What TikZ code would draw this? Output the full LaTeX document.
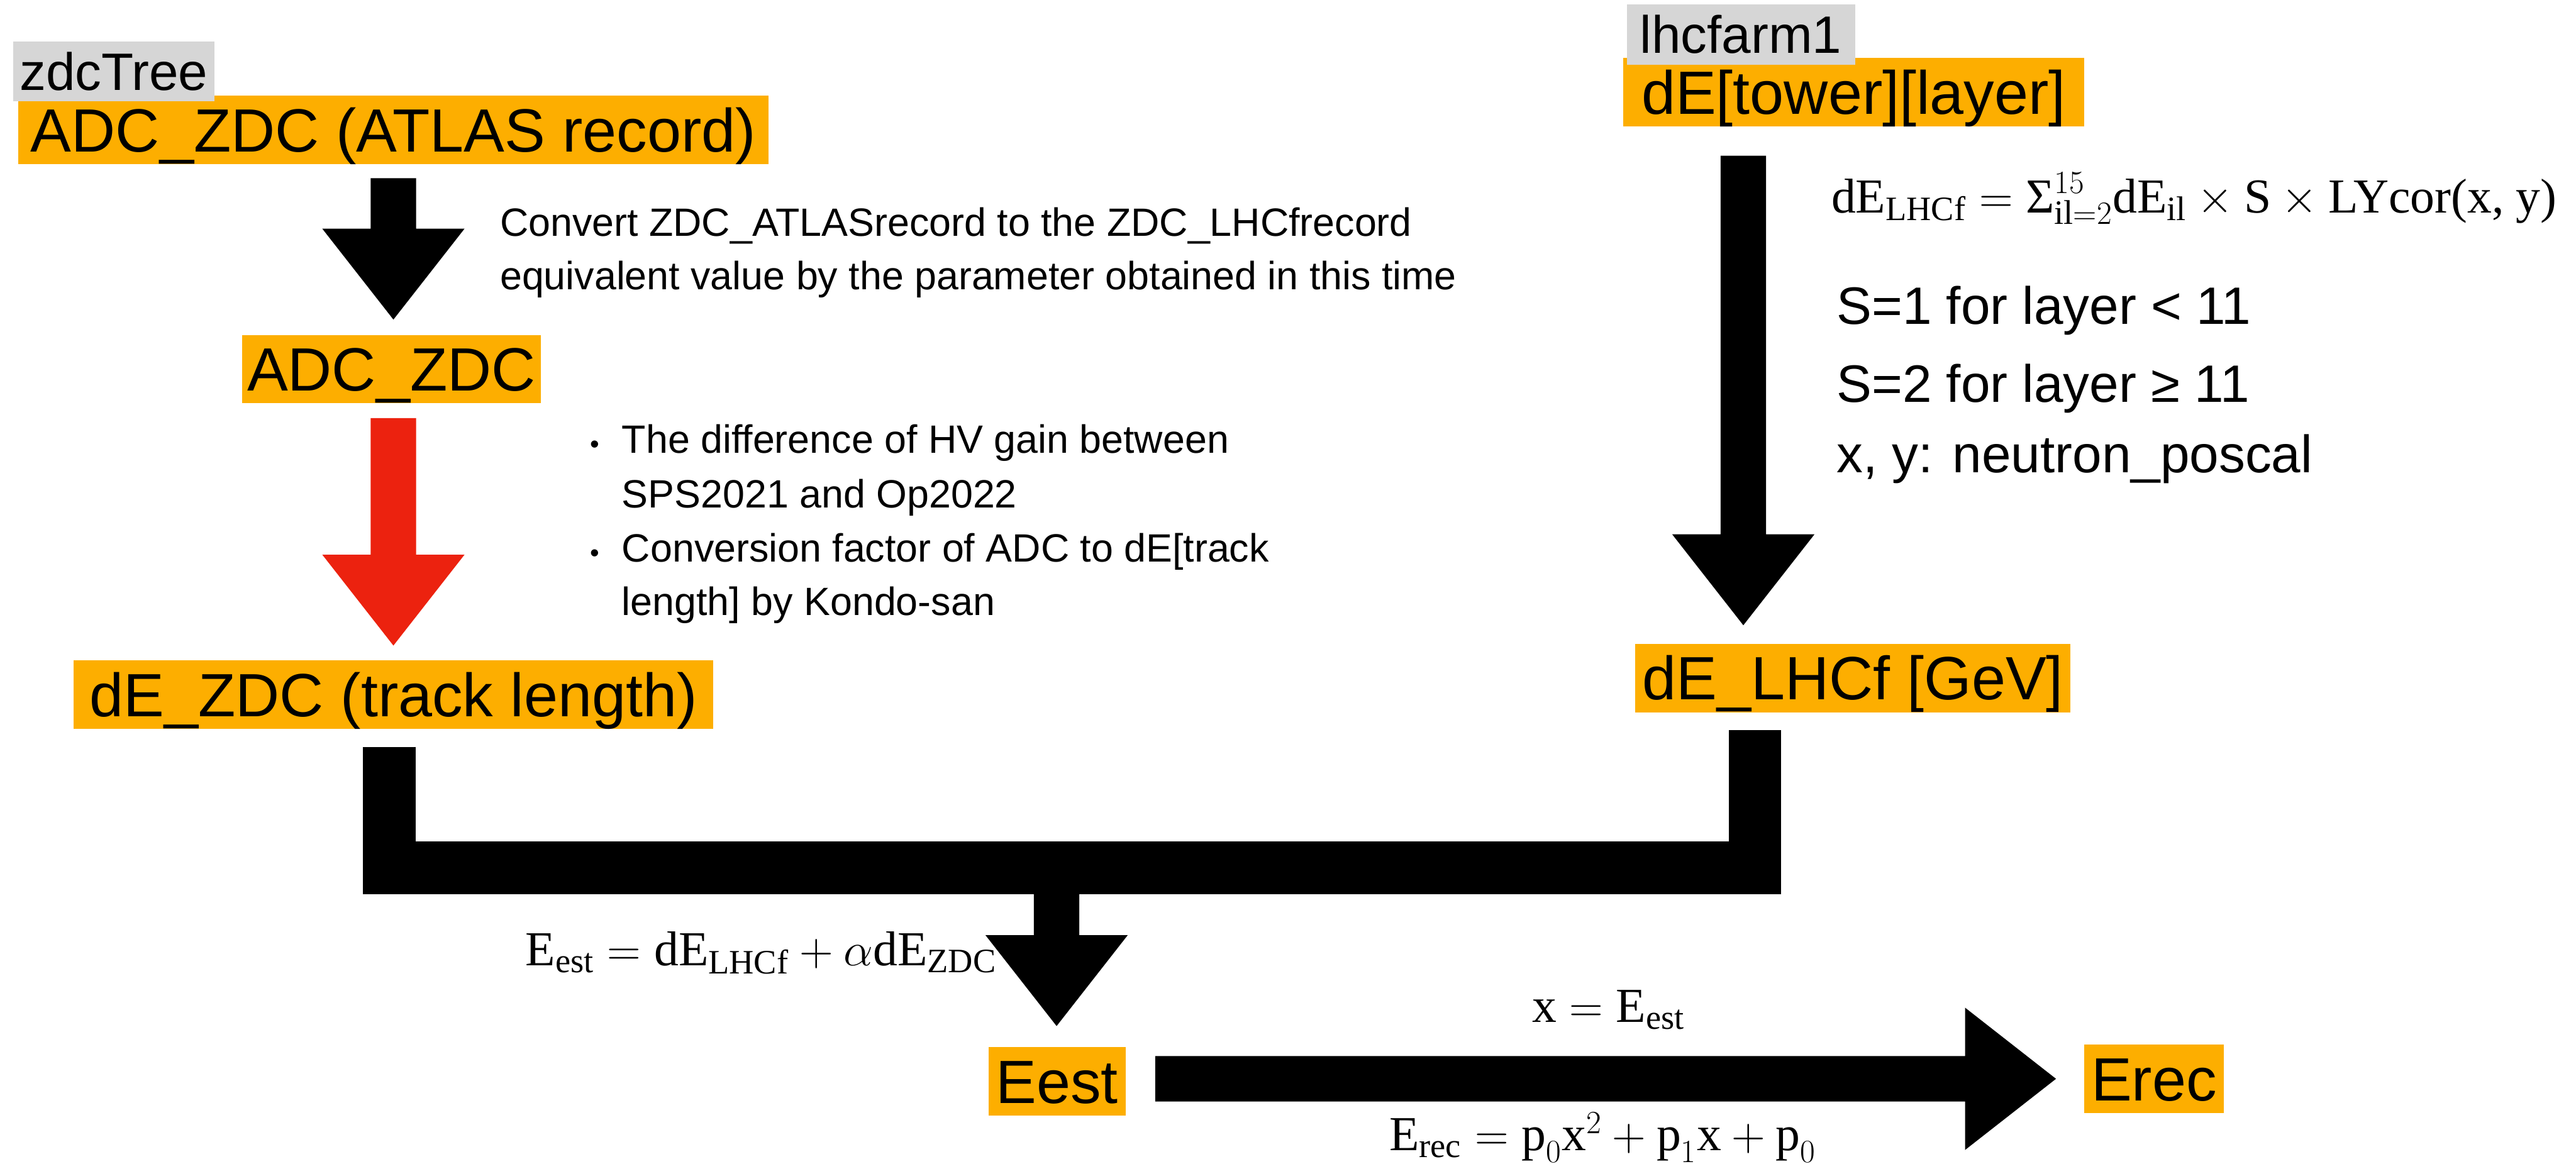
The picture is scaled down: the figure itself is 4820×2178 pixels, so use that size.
\documentclass[tikz,border=0pt]{standalone}
\usepackage{amsmath}
\usepackage{graphicx}
\usepackage{fontspec}
\setmainfont{Liberation Sans}
\newfontfamily\serifeq{Liberation Serif}
\usetikzlibrary{calc}
\definecolor{boxorange}{HTML}{FDAE00}
\definecolor{tagray}{HTML}{D6D6D6}
\definecolor{stepred}{HTML}{EC220F}
% upright serif text inside formulas
\newcommand\tm[1]{\text{\serifeq #1}}
% block arrow geometry: half shaft width, half head width, head length
\newcommand\arrshaft{0.425cm}
\newcommand\arrhead{1.33cm}
\newcommand\arrlen{1.70cm}
% downward block arrow from #2 (top centre) to #3 (tip)
\newcommand\vblock[3]{%
  \fill[#1] let \p1=(#2), \p2=(#3) in
    (\x1-\arrshaft,\y1) -- (\x1+\arrshaft,\y1) -- (\x1+\arrshaft,\y2+\arrlen)
    -- (\x1+\arrhead,\y2+\arrlen) -- (\x1,\y2) -- (\x1-\arrhead,\y2+\arrlen)
    -- (\x1-\arrshaft,\y2+\arrlen) -- cycle;}
% rightward block arrow from #2 (tail centre) to #3 (tip)
\newcommand\hblock[3]{%
  \fill[#1] let \p1=(#2), \p2=(#3) in
    (\x1,\y1+\arrshaft) -- (\x2-\arrlen,\y1+\arrshaft) -- (\x2-\arrlen,\y1+\arrhead)
    -- (\x2,\y1) -- (\x2-\arrlen,\y1-\arrhead) -- (\x2-\arrlen,\y1-\arrshaft)
    -- (\x1,\y1-\arrshaft) -- cycle;}
\begin{document}
\begin{tikzpicture}[x=0.01cm,y=-0.01cm,
  databox/.style={fill=boxorange, inner sep=0pt, anchor=north west,
    minimum height=1.28cm, font=\fontsize{32.5}{39}\selectfont,
    text height=23.3pt, text depth=0pt},
  sourcetag/.style={fill=tagray, inner sep=0pt, anchor=north west,
    minimum height=1.12cm, font=\fontsize{28}{34}\selectfont,
    text height=20pt, text depth=0pt},
  note/.style={inner sep=0pt, anchor=base west, font=\fontsize{21}{25}\selectfont},
  dot/.style={inner sep=0pt, anchor=base, font=\fontsize{14}{17}\selectfont},
  sidenote/.style={inner sep=0pt, anchor=base west, font=\fontsize{28}{34}\selectfont},
  formula/.style={inner sep=0pt, anchor=base west, font=\fontsize{26}{31}\selectfont\serifeq}]

\fill[white] (0,0) rectangle (4820,2178);
\useasboundingbox (0,0) rectangle (4820,2178);

% ---- data boxes ----
\node[databox, minimum width=14.04cm] (adcatlas) at (33,178) {ADC\_ZDC (ATLAS record)};
\node[databox, minimum width=5.59cm] (adc) at (452,626) {ADC\_ZDC};
\node[databox, minimum width=11.96cm] (dezdc) at (137,1235) {dE\_ZDC (track length)};
\node[databox, minimum width=8.63cm] (detower) at (3036,108) {dE[tower][layer]};
\node[databox, minimum width=8.14cm] (delhcf) at (3059,1204) {dE\_LHCf [GeV]};
\node[databox, minimum width=2.56cm] (eest) at (1849,1959) {Eest};
\node[databox, minimum width=2.61cm] (erec) at (3899,1954) {Erec};

% ---- source tags ----
\node[sourcetag, minimum width=3.76cm] (zdctree) at (24,77) {zdcTree};
\node[sourcetag, minimum width=4.27cm] (lhcfarm) at (3043,8) {lhcfarm1};

% ---- left chain ----
\coordinate (a1top) at ($(adcatlas.south)+(0,26)$);
\coordinate (a1tip) at ($(adc.north)+(0,-28)$);
\vblock{black}{a1top}{a1tip}
\coordinate (a2top) at ($(adcatlas.south |- adc.south)+(0,27)$);
\coordinate (a2tip) at ($(dezdc.north)+(0,-27)$);
\vblock{stepred}{a2top}{a2tip}

% ---- right chain ----
\coordinate (a3top) at ($(detower.south)+(-206.5,54)$);
\coordinate (a3tip) at ($(delhcf.north)+(0,-34)$);
\vblock{black}{a3top}{a3tip}

% ---- merging bracket ----
\coordinate (zdcfoot) at ($(dezdc.south)+(-7.5,33)$);
\coordinate (lhcffoot) at ($(delhcf.south)+(-183,33)$);
\coordinate (merge) at (1977,1624);
\draw[line width=0.98cm, line join=miter] (zdcfoot) |- (merge) -| (lhcffoot);
\coordinate (a4top) at ($(merge)+(0,49)$);
\coordinate (a4tip) at ($(eest.north)+(0,-39)$);
\vblock{black}{a4top}{a4tip}

% ---- final conversion ----
\coordinate (a5tail) at ($(eest.east |- erec.west)+(55,0)$);
\coordinate (a5tip) at ($(erec.west)+(-52,0)$);
\hblock{black}{a5tail}{a5tip}

% ---- annotations ----
\node[note] (conv1) at (935,442) {Convert ZDC\_ATLASrecord to the ZDC\_LHCfrecord};
\node[note] (conv2) at (935,542) {equivalent value by the parameter obtained in this time};

\node[dot] (b1) at (1113,848) {•};
\node[note] (hv1) at (1163,848) {The difference of HV gain between};
\node[note] (hv2) at (1163,950) {SPS2021 and Op2022};
\node[dot] (b2) at (1113,1052) {•};
\node[note] (cf1) at (1163,1052) {Conversion factor of ADC to dE[track};
\node[note] (cf2) at (1163,1152) {length] by Kondo-san};

\node[formula] (delhcfeq) at (3426,398) {$\tm{dE}_{\tm{LHCf}} = \tm{Σ}_{\tm{il}=2}^{15}\tm{dE}_{\tm{il}} \times \tm{S} \times \tm{LYcor(x, y)}$};
\node[sidenote] (s1) at (3436,607) {S=1 for layer < 11};
\node[sidenote] (s2) at (3436,752) {S=2 for layer ≥ 11};
\node[sidenote] (xy) at (3436,884) {x, y: neutron\_poscal};

\node[formula] (esteq) at (983,1807) {$\tm{E}_{\tm{est}} = \tm{dE}_{\tm{LHCf}} + \alpha\tm{dE}_{\tm{ZDC}}$};
\node[formula] (xeq) at (2866,1913) {$\tm{x} = \tm{E}_{\tm{est}}$};
\node[formula] (receq) at (2599,2153) {$\tm{E}_{\tm{rec}} = \tm{p}_{0}\tm{x}^{2} + \tm{p}_{1}\tm{x} + \tm{p}_{0}$};

\end{tikzpicture}
\end{document}
